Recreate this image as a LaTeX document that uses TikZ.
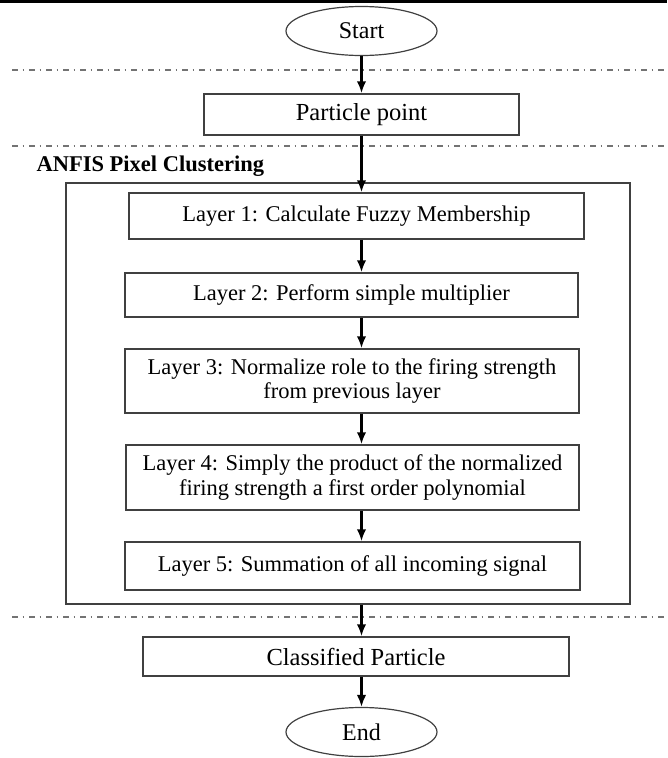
\documentclass[tikz,border=0pt]{standalone}
\usepackage{fontspec}
\setmainfont{Liberation Serif}
\usetikzlibrary{shapes.geometric,arrows.meta}
\tikzset{
  box/.style={draw=black!75, line width=1.5pt, inner sep=0pt, align=center, font=\fontsize{22.5}{24.5}\selectfont},
  bigbox/.style={box, font=\fontsize{24.5}{26}\selectfont},
  term/.style={ellipse, draw=black!75, line width=1.2pt, minimum width=151pt, minimum height=49pt, inner sep=0pt, font=\fontsize{24}{26}\selectfont},
  sepline/.style={draw=black!55, line width=1.4pt, dash pattern=on 6pt off 4.5pt on 1.5pt off 5pt},
  flow/.style={->, line width=2.3pt},
}
\begin{document}
\begin{tikzpicture}[x=1pt,y=-1pt,>={Latex[length=12pt,width=9.5pt]}]
        \useasboundingbox (0,0) rectangle (667,758);
        \draw[line width=2.5pt] (0,1.3)--(667,1.3);
        \foreach \y in {70,146,617}
            \draw[sepline] (12,\y)--(667,\y);
        \node[term] (start) at (361.5,31) {Start};
        \node[bigbox, minimum width=315pt, minimum height=41pt] (particle) at (361.5,114.5) {Particle point};
        \node[anchor=base west, font=\bfseries\fontsize{22.5}{24}\selectfont] (title) at (33,171) {ANFIS Pixel Clustering};
        \node[box, minimum width=564pt, minimum height=421pt] (anfis) at (348,393.5) {};
        \node[box, minimum width=455pt, minimum height=46pt] (l1) at (356.5,216) {Layer 1: Calculate Fuzzy Membership};
        \node[box, minimum width=453pt, minimum height=44pt] (l2) at (351.5,295) {Layer 2: Perform simple multiplier};
        \node[box, minimum width=454pt, minimum height=64pt] (l3) at (352,381) {Layer 3: Normalize role to the firing strength\\from previous layer};
        \node[box, minimum width=453pt, minimum height=65pt] (l4) at (352.5,477.5) {Layer 4: Simply the product of the normalized\\firing strength a first order polynomial};
        \node[box, minimum width=455pt, minimum height=48pt] (l5) at (352.5,566) {Layer 5: Summation of all incoming signal};
        \node[bigbox, minimum width=426pt, minimum height=39pt] (classified) at (356,656.5) {Classified Particle};
        \node[term] (end) at (361.5,732) {End};
        \draw[flow] (start)--(particle);
        \draw[flow] (particle)--(l1.north -| particle);
        \foreach \a/\b in {l1/l2,l2/l3,l3/l4,l4/l5}
            \draw[flow] (\a.south -| start)--(\b.north -| start);
        \draw[flow] (anfis.south -| start)--(classified.north -| start);
        \draw[flow] (classified.south -| start)--(end);
    \end{tikzpicture}
\end{document}
